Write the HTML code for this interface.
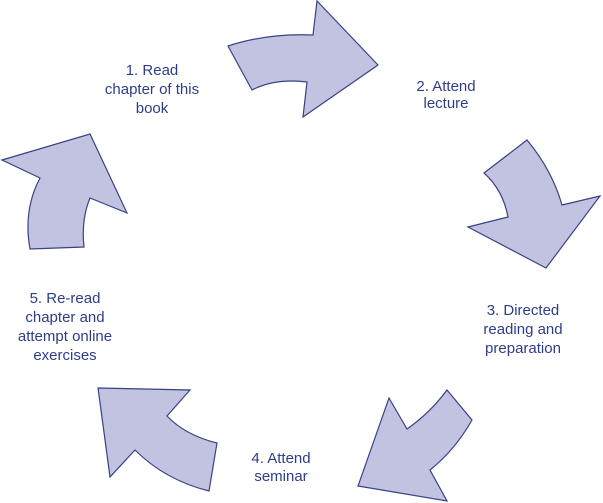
<!DOCTYPE html>
<html><head><meta charset="utf-8"><style>
html,body{margin:0;padding:0;background:#fff;}
svg{display:block}
text{font-family:"Liberation Sans",Arial,sans-serif;font-size:15px;fill:#2d3d8a;text-anchor:middle}
</style></head><body>
<svg width="603" height="503" viewBox="0 0 603 503" xmlns="http://www.w3.org/2000/svg">
<g fill="#c1c3e1" stroke="#3a4185" stroke-width="1.2" stroke-linejoin="miter">
<path d="M228,46 Q268,33 313,35 L317,1 L378,65 L303,117 L307,82 Q275,78 252,90 Z"/>
<path d="M484,173 L527,140 Q552,170 562,205 L600,196 L546,268 L468,227 L508,217 Q503,190 484,173 Z"/>
<path d="M2,160 L90,134 L127,213 L90,198 Q81,220 84,247 L30,249 Q23,210 40,178 Z"/>
<path d="M447,390 L472,420 Q455,450 430,470 L447,501 L358,486 L389,398 L407,429 Q430,413 447,390 Z"/>
<path d="M98,388 L190,390 L167,416 Q185,435 217,443 L209,491 Q165,480 135,450 L110,477 Z"/>
</g>
<text x="152" y="75">1. Read</text>
<text x="152" y="94">chapter of this</text>
<text x="152" y="113">book</text>
<text x="446" y="91">2. Attend</text>
<text x="446" y="108">lecture</text>
<text x="523" y="315">3. Directed</text>
<text x="523" y="334">reading and</text>
<text x="523" y="353">preparation</text>
<text x="281" y="463">4. Attend</text>
<text x="281" y="481">seminar</text>
<text x="65" y="303">5. Re-read</text>
<text x="65" y="322">chapter and</text>
<text x="65" y="341">attempt online</text>
<text x="65" y="360">exercises</text>
</svg>
</body></html>
